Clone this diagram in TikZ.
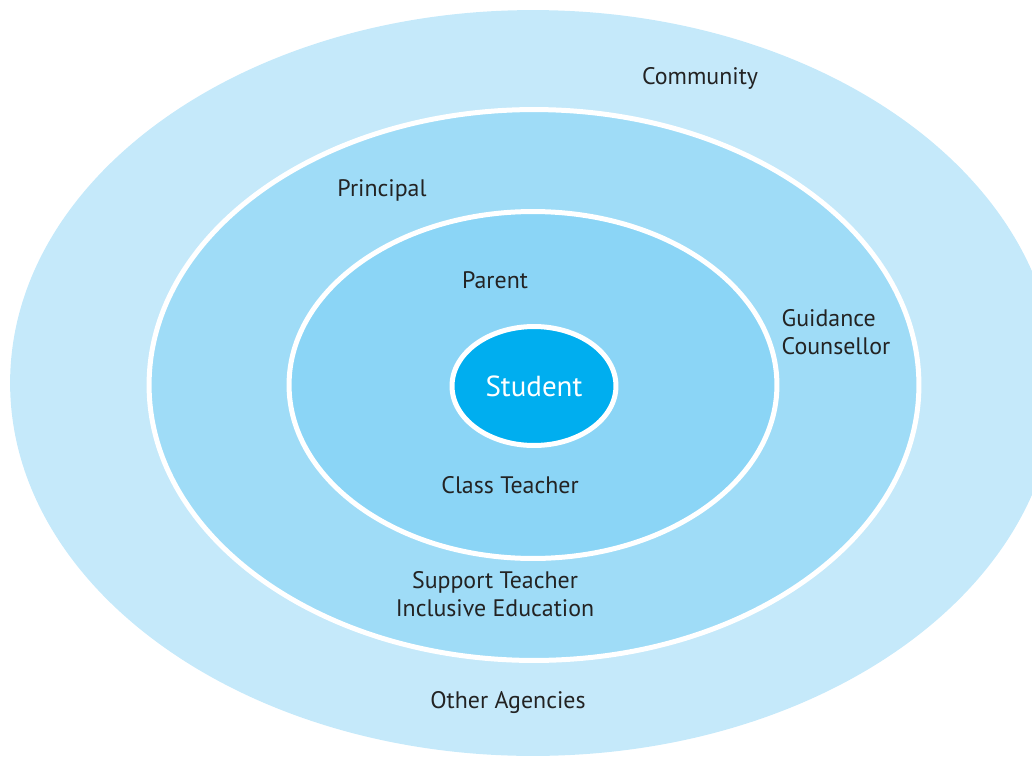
\documentclass[tikz,border=0pt]{standalone}
\usepackage{fontspec}
\setmainfont{PT Sans}
\usetikzlibrary{shapes.geometric}
\definecolor{ringA}{RGB}{197,233,250}
\definecolor{ringB}{RGB}{159,220,247}
\definecolor{ringC}{RGB}{139,213,246}
\definecolor{ringD}{RGB}{0,174,239}
\definecolor{labelgray}{RGB}{35,35,35}
\tikzset{
ring/.style={
  ellipse,
  inner sep=0pt,
  draw=white,
  line width=0.1cm
},
lbl/.style={text=labelgray, font=\fontsize{13.6}{16}\selectfont, align=center},
}

\begin{document}
\begin{tikzpicture}[x=0.02cm,y=-0.02cm]
    \useasboundingbox (0,0) rectangle (1032,758);
    \node (community) [ring, draw=none, fill=ringA, minimum width=20.92cm, minimum height=14.92cm] at (533,383) {};
    \node (principal) [ring, fill=ringB, minimum width=15.40cm, minimum height=11.02cm] at (534,385) {};
    \node (parent) [ring, fill=ringC, minimum width=9.76cm, minimum height=6.94cm] at (533,385) {};
    \node (student) [ring, fill=ringD, minimum width=3.28cm, minimum height=2.38cm, text=white, font=\fontsize{16.5}{20}\selectfont] at (534,386) {Student};
    % labels
    \node (tcommunity) [lbl] at (700,78) {Community};
    \node (tprincipal) [lbl] at (382,190) {Principal};
    \node (tparent) [lbl] at (495,280) {Parent};
    \node (tguidance) [lbl, align=left] at (836,332) {Guidance\\Counsellor};
    \node (tclass) [lbl] at (510,485) {Class Teacher};
    \node (tsupport) [lbl] at (495,594) {Support Teacher\\Inclusive Education};
    \node (tother) [lbl] at (508,703) {Other Agencies};
\end{tikzpicture}
\end{document}
